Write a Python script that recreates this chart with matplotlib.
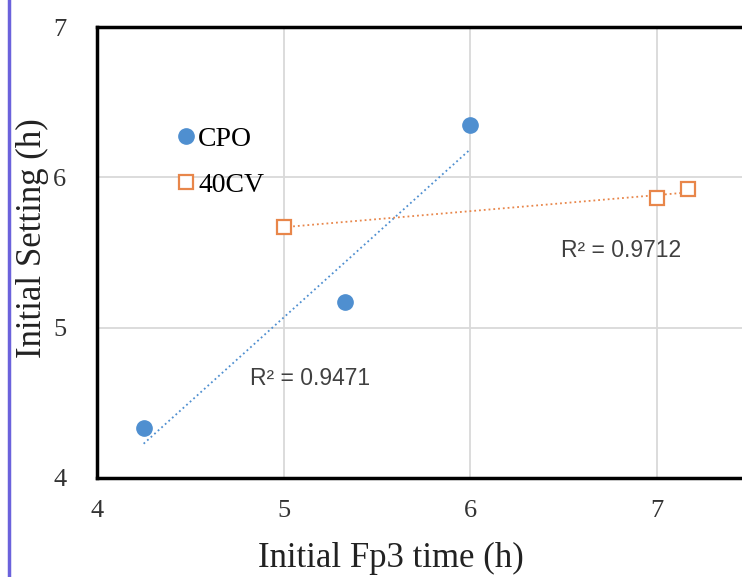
import numpy as np
import matplotlib.pyplot as plt
from matplotlib.lines import Line2D

# data
cpo_x = [4.25, 5.33, 6.0]
cpo_y = [4.33, 5.17, 6.35]
cv_x = [5.0, 7.0, 7.17]
cv_y = [5.67, 5.86, 5.92]
r2_cpo = "R² = 0.9471"
r2_cv = "R² = 0.9712"

blue = '#4F8FD0'
orange = '#E8864A'
serif = ['Liberation Serif', 'DejaVu Serif']

fig = plt.figure(figsize=(7.42, 5.77), dpi=100)
ax = fig.add_axes([97 / 742, 1 - 478 / 577, 653 / 742, 451 / 577])

# trend lines (linear fit of each series)
for xs, ys, c in [(cpo_x, cpo_y, blue), (cv_x, cv_y, orange)]:
    k, b = np.polyfit(xs, ys, 1)
    xx = np.array([min(xs), max(xs)])
    ax.plot(xx, k * xx + b, ls=':', lw=1.3, color=c, zorder=2)

ax.plot(cpo_x, cpo_y, 'o', ms=11, color=blue, mec=blue, zorder=3)
ax.plot(cv_x, cv_y, 's', ms=10, mfc='white', mec=orange, mew=1.6, zorder=3)

ax.text(5.14, 4.66, r2_cpo, family=['Liberation Sans'], fontsize=16.5,
        color='#404040', ha='center', va='center')
ax.text(6.81, 5.51, r2_cv, family=['Liberation Sans'], fontsize=16.5,
        color='#404040', ha='center', va='center')

ax.set_xlim(4, 7.5)
ax.set_ylim(4, 7)
ax.set_xticks([4, 5, 6, 7])
ax.set_yticks([4, 5, 6, 7])
ax.grid(True, color='#d9d9d9', lw=1.3)
ax.set_axisbelow(True)
for s in ax.spines.values():
    s.set_linewidth(2.5)
    s.set_color('black')
ax.tick_params(length=0, labelsize=19, colors='#333333')
ax.tick_params(axis='y', pad=22)
ax.tick_params(axis='x', pad=16)
for lab in ax.get_xticklabels() + ax.get_yticklabels():
    lab.set_family(serif)

ax.set_ylabel('Initial Setting (h)', family=serif, fontsize=25, color='#222222')
ax.yaxis.set_label_coords(-0.073, 0.532)
fig.text(391 / 742, 1 - 567 / 577, 'Initial Fp3 time (h)', family=serif,
         fontsize=25, color='#222222', ha='center', va='baseline')

handles = [Line2D([], [], ls='none', marker='o', ms=11, color=blue),
           Line2D([], [], ls='none', marker='s', ms=10, mfc='white',
                  mec=orange, mew=1.6)]
ax.legend(handles, ['CPO', '40CV'], loc='upper left',
          bbox_to_anchor=(0.085, 0.835), frameon=False, handlelength=0.6,
          handletextpad=0.15, labelspacing=0.75,
          prop={'family': serif, 'size': 20})

# the blue edge line at the far left of the crop
fig.add_artist(Line2D([9 / 742, 9 / 742], [0, 1], color='#6b62dc', lw=2.5))

fig.savefig('out.png', dpi=100)
